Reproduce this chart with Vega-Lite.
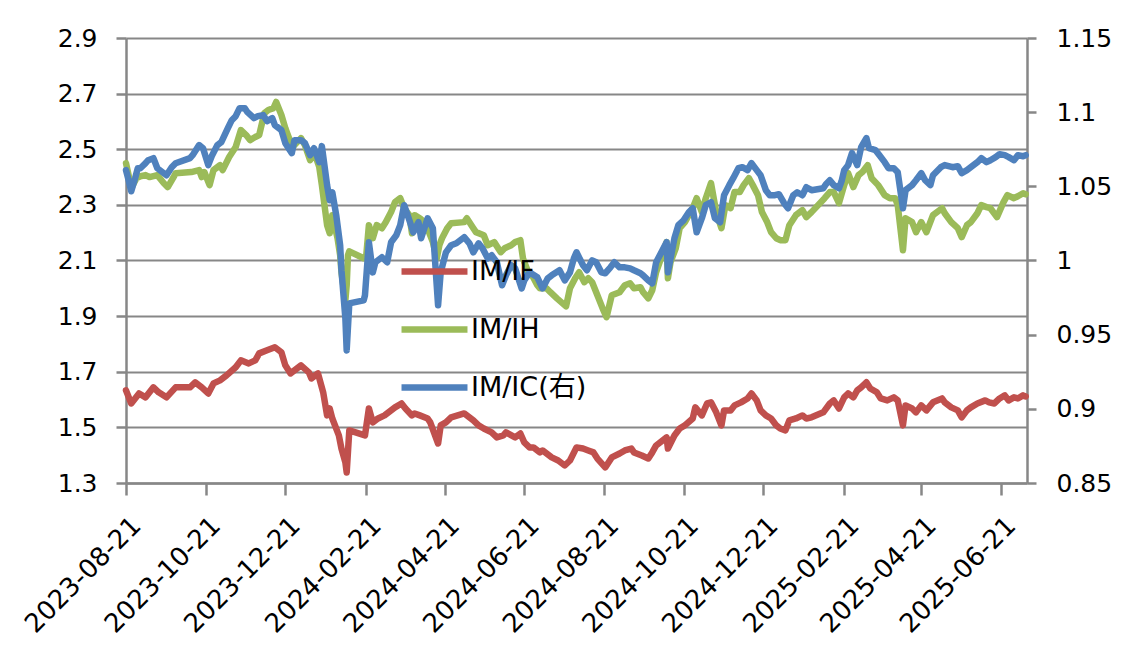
{
"$schema":"https://vega.github.io/schema/vega-lite/v6.json",
"width":901,"height":445,
"autosize":{"type":"none"},
"padding":{"left":126,"top":38,"right":100,"bottom":166},
"background":"white",
"config":{"view":{"stroke":null},"axis":{"labelFont":"DejaVu Sans","labelFontSize":25,"labelColor":"#000","domainColor":"#878787","domainWidth":2.5,"tickColor":"#878787","tickWidth":2.5,"gridColor":"#878787","gridWidth":2}},
"datasets":{
"left":[
{"d":"2023-08-21","s":"IM/IF","v":1.633},{"d":"2023-08-25","s":"IM/IF","v":1.586},{"d":"2023-08-31","s":"IM/IF","v":1.622},{"d":"2023-09-05","s":"IM/IF","v":1.608},{"d":"2023-09-11","s":"IM/IF","v":1.644},{"d":"2023-09-15","s":"IM/IF","v":1.626},{"d":"2023-09-21","s":"IM/IF","v":1.608},{"d":"2023-09-28","s":"IM/IF","v":1.644},{"d":"2023-10-09","s":"IM/IF","v":1.644},{"d":"2023-10-13","s":"IM/IF","v":1.662},{"d":"2023-10-18","s":"IM/IF","v":1.644},{"d":"2023-10-23","s":"IM/IF","v":1.622},{"d":"2023-10-27","s":"IM/IF","v":1.658},{"d":"2023-11-01","s":"IM/IF","v":1.669},{"d":"2023-11-06","s":"IM/IF","v":1.687},{"d":"2023-11-13","s":"IM/IF","v":1.716},{"d":"2023-11-17","s":"IM/IF","v":1.741},{"d":"2023-11-23","s":"IM/IF","v":1.730},{"d":"2023-11-28","s":"IM/IF","v":1.741},{"d":"2023-12-01","s":"IM/IF","v":1.766},{"d":"2023-12-07","s":"IM/IF","v":1.777},{"d":"2023-12-13","s":"IM/IF","v":1.788},{"d":"2023-12-18","s":"IM/IF","v":1.770},{"d":"2023-12-21","s":"IM/IF","v":1.723},{"d":"2023-12-25","s":"IM/IF","v":1.694},{"d":"2024-01-02","s":"IM/IF","v":1.723},{"d":"2024-01-08","s":"IM/IF","v":1.698},{"d":"2024-01-10","s":"IM/IF","v":1.676},{"d":"2024-01-15","s":"IM/IF","v":1.694},{"d":"2024-01-19","s":"IM/IF","v":1.626},{"d":"2024-01-22","s":"IM/IF","v":1.543},{"d":"2024-01-24","s":"IM/IF","v":1.568},{"d":"2024-01-26","s":"IM/IF","v":1.532},{"d":"2024-01-31","s":"IM/IF","v":1.471},{"d":"2024-02-02","s":"IM/IF","v":1.424},{"d":"2024-02-05","s":"IM/IF","v":1.374},{"d":"2024-02-06","s":"IM/IF","v":1.338},{"d":"2024-02-08","s":"IM/IF","v":1.489},{"d":"2024-02-20","s":"IM/IF","v":1.471},{"d":"2024-02-23","s":"IM/IF","v":1.568},{"d":"2024-02-26","s":"IM/IF","v":1.518},{"d":"2024-03-01","s":"IM/IF","v":1.532},{"d":"2024-03-06","s":"IM/IF","v":1.543},{"d":"2024-03-11","s":"IM/IF","v":1.561},{"d":"2024-03-14","s":"IM/IF","v":1.572},{"d":"2024-03-19","s":"IM/IF","v":1.586},{"d":"2024-03-22","s":"IM/IF","v":1.568},{"d":"2024-03-27","s":"IM/IF","v":1.543},{"d":"2024-03-29","s":"IM/IF","v":1.550},{"d":"2024-04-02","s":"IM/IF","v":1.543},{"d":"2024-04-08","s":"IM/IF","v":1.532},{"d":"2024-04-10","s":"IM/IF","v":1.518},{"d":"2024-04-16","s":"IM/IF","v":1.442},{"d":"2024-04-18","s":"IM/IF","v":1.507},{"d":"2024-04-22","s":"IM/IF","v":1.518},{"d":"2024-04-26","s":"IM/IF","v":1.536},{"d":"2024-05-06","s":"IM/IF","v":1.550},{"d":"2024-05-08","s":"IM/IF","v":1.543},{"d":"2024-05-13","s":"IM/IF","v":1.525},{"d":"2024-05-17","s":"IM/IF","v":1.507},{"d":"2024-05-21","s":"IM/IF","v":1.496},{"d":"2024-05-27","s":"IM/IF","v":1.482},{"d":"2024-05-31","s":"IM/IF","v":1.464},{"d":"2024-06-05","s":"IM/IF","v":1.471},{"d":"2024-06-07","s":"IM/IF","v":1.482},{"d":"2024-06-14","s":"IM/IF","v":1.464},{"d":"2024-06-18","s":"IM/IF","v":1.478},{"d":"2024-06-21","s":"IM/IF","v":1.446},{"d":"2024-06-25","s":"IM/IF","v":1.428},{"d":"2024-06-28","s":"IM/IF","v":1.428},{"d":"2024-07-03","s":"IM/IF","v":1.410},{"d":"2024-07-05","s":"IM/IF","v":1.417},{"d":"2024-07-12","s":"IM/IF","v":1.392},{"d":"2024-07-17","s":"IM/IF","v":1.381},{"d":"2024-07-22","s":"IM/IF","v":1.363},{"d":"2024-07-26","s":"IM/IF","v":1.381},{"d":"2024-07-31","s":"IM/IF","v":1.428},{"d":"2024-08-05","s":"IM/IF","v":1.424},{"d":"2024-08-09","s":"IM/IF","v":1.417},{"d":"2024-08-13","s":"IM/IF","v":1.410},{"d":"2024-08-16","s":"IM/IF","v":1.388},{"d":"2024-08-22","s":"IM/IF","v":1.356},{"d":"2024-08-27","s":"IM/IF","v":1.392},{"d":"2024-09-02","s":"IM/IF","v":1.406},{"d":"2024-09-06","s":"IM/IF","v":1.417},{"d":"2024-09-11","s":"IM/IF","v":1.424},{"d":"2024-09-13","s":"IM/IF","v":1.410},{"d":"2024-09-19","s":"IM/IF","v":1.399},{"d":"2024-09-24","s":"IM/IF","v":1.388},{"d":"2024-09-27","s":"IM/IF","v":1.410},{"d":"2024-09-30","s":"IM/IF","v":1.435},{"d":"2024-10-08","s":"IM/IF","v":1.464},{"d":"2024-10-09","s":"IM/IF","v":1.424},{"d":"2024-10-14","s":"IM/IF","v":1.471},{"d":"2024-10-18","s":"IM/IF","v":1.496},{"d":"2024-10-22","s":"IM/IF","v":1.507},{"d":"2024-10-28","s":"IM/IF","v":1.532},{"d":"2024-10-30","s":"IM/IF","v":1.572},{"d":"2024-11-04","s":"IM/IF","v":1.543},{"d":"2024-11-08","s":"IM/IF","v":1.586},{"d":"2024-11-11","s":"IM/IF","v":1.590},{"d":"2024-11-15","s":"IM/IF","v":1.554},{"d":"2024-11-19","s":"IM/IF","v":1.507},{"d":"2024-11-21","s":"IM/IF","v":1.561},{"d":"2024-11-26","s":"IM/IF","v":1.561},{"d":"2024-11-29","s":"IM/IF","v":1.579},{"d":"2024-12-04","s":"IM/IF","v":1.590},{"d":"2024-12-09","s":"IM/IF","v":1.604},{"d":"2024-12-12","s":"IM/IF","v":1.622},{"d":"2024-12-16","s":"IM/IF","v":1.597},{"d":"2024-12-19","s":"IM/IF","v":1.561},{"d":"2024-12-23","s":"IM/IF","v":1.543},{"d":"2024-12-27","s":"IM/IF","v":1.532},{"d":"2024-12-31","s":"IM/IF","v":1.507},{"d":"2025-01-03","s":"IM/IF","v":1.496},{"d":"2025-01-07","s":"IM/IF","v":1.489},{"d":"2025-01-10","s":"IM/IF","v":1.525},{"d":"2025-01-15","s":"IM/IF","v":1.532},{"d":"2025-01-20","s":"IM/IF","v":1.543},{"d":"2025-01-23","s":"IM/IF","v":1.532},{"d":"2025-01-27","s":"IM/IF","v":1.536},{"d":"2025-02-05","s":"IM/IF","v":1.554},{"d":"2025-02-10","s":"IM/IF","v":1.586},{"d":"2025-02-13","s":"IM/IF","v":1.597},{"d":"2025-02-17","s":"IM/IF","v":1.568},{"d":"2025-02-21","s":"IM/IF","v":1.608},{"d":"2025-02-24","s":"IM/IF","v":1.622},{"d":"2025-02-28","s":"IM/IF","v":1.608},{"d":"2025-03-03","s":"IM/IF","v":1.633},{"d":"2025-03-06","s":"IM/IF","v":1.644},{"d":"2025-03-10","s":"IM/IF","v":1.662},{"d":"2025-03-13","s":"IM/IF","v":1.640},{"d":"2025-03-18","s":"IM/IF","v":1.626},{"d":"2025-03-21","s":"IM/IF","v":1.604},{"d":"2025-03-26","s":"IM/IF","v":1.597},{"d":"2025-03-31","s":"IM/IF","v":1.608},{"d":"2025-04-03","s":"IM/IF","v":1.597},{"d":"2025-04-07","s":"IM/IF","v":1.507},{"d":"2025-04-09","s":"IM/IF","v":1.579},{"d":"2025-04-14","s":"IM/IF","v":1.568},{"d":"2025-04-17","s":"IM/IF","v":1.554},{"d":"2025-04-21","s":"IM/IF","v":1.579},{"d":"2025-04-25","s":"IM/IF","v":1.561},{"d":"2025-04-30","s":"IM/IF","v":1.590},{"d":"2025-05-07","s":"IM/IF","v":1.604},{"d":"2025-05-09","s":"IM/IF","v":1.590},{"d":"2025-05-14","s":"IM/IF","v":1.572},{"d":"2025-05-19","s":"IM/IF","v":1.561},{"d":"2025-05-22","s":"IM/IF","v":1.536},{"d":"2025-05-26","s":"IM/IF","v":1.561},{"d":"2025-05-29","s":"IM/IF","v":1.572},{"d":"2025-06-03","s":"IM/IF","v":1.586},{"d":"2025-06-09","s":"IM/IF","v":1.597},{"d":"2025-06-12","s":"IM/IF","v":1.590},{"d":"2025-06-16","s":"IM/IF","v":1.586},{"d":"2025-06-20","s":"IM/IF","v":1.604},{"d":"2025-06-24","s":"IM/IF","v":1.615},{"d":"2025-06-27","s":"IM/IF","v":1.597},{"d":"2025-07-01","s":"IM/IF","v":1.608},{"d":"2025-07-04","s":"IM/IF","v":1.604},{"d":"2025-07-08","s":"IM/IF","v":1.615},{"d":"2025-07-10","s":"IM/IF","v":1.611},
{"d":"2023-08-21","s":"IM/IH","v":2.450},{"d":"2023-08-23","s":"IM/IH","v":2.407},{"d":"2023-08-25","s":"IM/IH","v":2.360},{"d":"2023-08-29","s":"IM/IH","v":2.396},{"d":"2023-09-01","s":"IM/IH","v":2.403},{"d":"2023-09-05","s":"IM/IH","v":2.407},{"d":"2023-09-08","s":"IM/IH","v":2.400},{"d":"2023-09-14","s":"IM/IH","v":2.407},{"d":"2023-09-19","s":"IM/IH","v":2.378},{"d":"2023-09-22","s":"IM/IH","v":2.364},{"d":"2023-09-26","s":"IM/IH","v":2.396},{"d":"2023-09-28","s":"IM/IH","v":2.414},{"d":"2023-10-10","s":"IM/IH","v":2.418},{"d":"2023-10-16","s":"IM/IH","v":2.425},{"d":"2023-10-18","s":"IM/IH","v":2.400},{"d":"2023-10-20","s":"IM/IH","v":2.418},{"d":"2023-10-24","s":"IM/IH","v":2.371},{"d":"2023-10-27","s":"IM/IH","v":2.425},{"d":"2023-11-01","s":"IM/IH","v":2.443},{"d":"2023-11-03","s":"IM/IH","v":2.425},{"d":"2023-11-08","s":"IM/IH","v":2.472},{"d":"2023-11-13","s":"IM/IH","v":2.508},{"d":"2023-11-17","s":"IM/IH","v":2.569},{"d":"2023-11-21","s":"IM/IH","v":2.551},{"d":"2023-11-24","s":"IM/IH","v":2.533},{"d":"2023-11-28","s":"IM/IH","v":2.544},{"d":"2023-12-01","s":"IM/IH","v":2.551},{"d":"2023-12-05","s":"IM/IH","v":2.630},{"d":"2023-12-08","s":"IM/IH","v":2.641},{"d":"2023-12-12","s":"IM/IH","v":2.648},{"d":"2023-12-14","s":"IM/IH","v":2.670},{"d":"2023-12-18","s":"IM/IH","v":2.623},{"d":"2023-12-21","s":"IM/IH","v":2.576},{"d":"2023-12-25","s":"IM/IH","v":2.526},{"d":"2023-12-28","s":"IM/IH","v":2.515},{"d":"2024-01-02","s":"IM/IH","v":2.540},{"d":"2024-01-05","s":"IM/IH","v":2.515},{"d":"2024-01-09","s":"IM/IH","v":2.461},{"d":"2024-01-12","s":"IM/IH","v":2.490},{"d":"2024-01-16","s":"IM/IH","v":2.436},{"d":"2024-01-18","s":"IM/IH","v":2.371},{"d":"2024-01-22","s":"IM/IH","v":2.227},{"d":"2024-01-24","s":"IM/IH","v":2.198},{"d":"2024-01-26","s":"IM/IH","v":2.263},{"d":"2024-01-30","s":"IM/IH","v":2.180},{"d":"2024-02-01","s":"IM/IH","v":2.119},{"d":"2024-02-02","s":"IM/IH","v":2.058},{"d":"2024-02-05","s":"IM/IH","v":1.957},{"d":"2024-02-06","s":"IM/IH","v":2.011},{"d":"2024-02-07","s":"IM/IH","v":2.119},{"d":"2024-02-08","s":"IM/IH","v":2.133},{"d":"2024-02-19","s":"IM/IH","v":2.108},{"d":"2024-02-21","s":"IM/IH","v":2.119},{"d":"2024-02-23","s":"IM/IH","v":2.227},{"d":"2024-02-26","s":"IM/IH","v":2.180},{"d":"2024-02-29","s":"IM/IH","v":2.227},{"d":"2024-03-04","s":"IM/IH","v":2.216},{"d":"2024-03-07","s":"IM/IH","v":2.238},{"d":"2024-03-11","s":"IM/IH","v":2.274},{"d":"2024-03-14","s":"IM/IH","v":2.310},{"d":"2024-03-18","s":"IM/IH","v":2.324},{"d":"2024-03-21","s":"IM/IH","v":2.288},{"d":"2024-03-25","s":"IM/IH","v":2.263},{"d":"2024-03-27","s":"IM/IH","v":2.198},{"d":"2024-03-29","s":"IM/IH","v":2.263},{"d":"2024-04-02","s":"IM/IH","v":2.252},{"d":"2024-04-08","s":"IM/IH","v":2.227},{"d":"2024-04-09","s":"IM/IH","v":2.202},{"d":"2024-04-12","s":"IM/IH","v":2.166},{"d":"2024-04-15","s":"IM/IH","v":2.108},{"d":"2024-04-17","s":"IM/IH","v":2.155},{"d":"2024-04-19","s":"IM/IH","v":2.180},{"d":"2024-04-23","s":"IM/IH","v":2.216},{"d":"2024-04-26","s":"IM/IH","v":2.234},{"d":"2024-05-06","s":"IM/IH","v":2.238},{"d":"2024-05-08","s":"IM/IH","v":2.252},{"d":"2024-05-13","s":"IM/IH","v":2.216},{"d":"2024-05-15","s":"IM/IH","v":2.202},{"d":"2024-05-21","s":"IM/IH","v":2.191},{"d":"2024-05-24","s":"IM/IH","v":2.155},{"d":"2024-05-29","s":"IM/IH","v":2.166},{"d":"2024-06-03","s":"IM/IH","v":2.130},{"d":"2024-06-06","s":"IM/IH","v":2.144},{"d":"2024-06-11","s":"IM/IH","v":2.155},{"d":"2024-06-14","s":"IM/IH","v":2.166},{"d":"2024-06-18","s":"IM/IH","v":2.173},{"d":"2024-06-20","s":"IM/IH","v":2.108},{"d":"2024-06-24","s":"IM/IH","v":2.058},{"d":"2024-06-27","s":"IM/IH","v":2.047},{"d":"2024-07-01","s":"IM/IH","v":2.011},{"d":"2024-07-03","s":"IM/IH","v":2.000},{"d":"2024-07-08","s":"IM/IH","v":2.000},{"d":"2024-07-11","s":"IM/IH","v":1.986},{"d":"2024-07-16","s":"IM/IH","v":1.964},{"d":"2024-07-23","s":"IM/IH","v":1.935},{"d":"2024-07-26","s":"IM/IH","v":2.000},{"d":"2024-07-30","s":"IM/IH","v":2.036},{"d":"2024-08-02","s":"IM/IH","v":2.058},{"d":"2024-08-06","s":"IM/IH","v":2.022},{"d":"2024-08-09","s":"IM/IH","v":2.036},{"d":"2024-08-12","s":"IM/IH","v":2.022},{"d":"2024-08-16","s":"IM/IH","v":1.975},{"d":"2024-08-20","s":"IM/IH","v":1.928},{"d":"2024-08-23","s":"IM/IH","v":1.896},{"d":"2024-08-27","s":"IM/IH","v":1.975},{"d":"2024-09-02","s":"IM/IH","v":1.986},{"d":"2024-09-06","s":"IM/IH","v":2.011},{"d":"2024-09-10","s":"IM/IH","v":2.018},{"d":"2024-09-13","s":"IM/IH","v":2.000},{"d":"2024-09-18","s":"IM/IH","v":2.004},{"d":"2024-09-20","s":"IM/IH","v":1.986},{"d":"2024-09-24","s":"IM/IH","v":1.964},{"d":"2024-09-27","s":"IM/IH","v":1.993},{"d":"2024-09-30","s":"IM/IH","v":2.058},{"d":"2024-10-08","s":"IM/IH","v":2.166},{"d":"2024-10-09","s":"IM/IH","v":2.036},{"d":"2024-10-11","s":"IM/IH","v":2.094},{"d":"2024-10-15","s":"IM/IH","v":2.144},{"d":"2024-10-18","s":"IM/IH","v":2.216},{"d":"2024-10-22","s":"IM/IH","v":2.238},{"d":"2024-10-28","s":"IM/IH","v":2.288},{"d":"2024-10-31","s":"IM/IH","v":2.324},{"d":"2024-11-04","s":"IM/IH","v":2.274},{"d":"2024-11-07","s":"IM/IH","v":2.324},{"d":"2024-11-11","s":"IM/IH","v":2.378},{"d":"2024-11-15","s":"IM/IH","v":2.274},{"d":"2024-11-19","s":"IM/IH","v":2.216},{"d":"2024-11-22","s":"IM/IH","v":2.299},{"d":"2024-11-26","s":"IM/IH","v":2.288},{"d":"2024-11-29","s":"IM/IH","v":2.346},{"d":"2024-12-03","s":"IM/IH","v":2.346},{"d":"2024-12-06","s":"IM/IH","v":2.371},{"d":"2024-12-10","s":"IM/IH","v":2.396},{"d":"2024-12-13","s":"IM/IH","v":2.371},{"d":"2024-12-17","s":"IM/IH","v":2.335},{"d":"2024-12-20","s":"IM/IH","v":2.274},{"d":"2024-12-24","s":"IM/IH","v":2.238},{"d":"2024-12-27","s":"IM/IH","v":2.202},{"d":"2024-12-31","s":"IM/IH","v":2.180},{"d":"2025-01-03","s":"IM/IH","v":2.173},{"d":"2025-01-07","s":"IM/IH","v":2.173},{"d":"2025-01-10","s":"IM/IH","v":2.227},{"d":"2025-01-15","s":"IM/IH","v":2.263},{"d":"2025-01-20","s":"IM/IH","v":2.281},{"d":"2025-01-23","s":"IM/IH","v":2.256},{"d":"2025-01-27","s":"IM/IH","v":2.274},{"d":"2025-02-06","s":"IM/IH","v":2.324},{"d":"2025-02-10","s":"IM/IH","v":2.346},{"d":"2025-02-13","s":"IM/IH","v":2.346},{"d":"2025-02-17","s":"IM/IH","v":2.306},{"d":"2025-02-21","s":"IM/IH","v":2.371},{"d":"2025-02-24","s":"IM/IH","v":2.414},{"d":"2025-02-28","s":"IM/IH","v":2.364},{"d":"2025-03-04","s":"IM/IH","v":2.407},{"d":"2025-03-07","s":"IM/IH","v":2.418},{"d":"2025-03-11","s":"IM/IH","v":2.443},{"d":"2025-03-14","s":"IM/IH","v":2.396},{"d":"2025-03-19","s":"IM/IH","v":2.371},{"d":"2025-03-24","s":"IM/IH","v":2.335},{"d":"2025-03-28","s":"IM/IH","v":2.324},{"d":"2025-04-01","s":"IM/IH","v":2.324},{"d":"2025-04-03","s":"IM/IH","v":2.299},{"d":"2025-04-07","s":"IM/IH","v":2.137},{"d":"2025-04-09","s":"IM/IH","v":2.252},{"d":"2025-04-14","s":"IM/IH","v":2.238},{"d":"2025-04-17","s":"IM/IH","v":2.202},{"d":"2025-04-21","s":"IM/IH","v":2.238},{"d":"2025-04-25","s":"IM/IH","v":2.202},{"d":"2025-04-30","s":"IM/IH","v":2.263},{"d":"2025-05-07","s":"IM/IH","v":2.288},{"d":"2025-05-09","s":"IM/IH","v":2.270},{"d":"2025-05-14","s":"IM/IH","v":2.238},{"d":"2025-05-19","s":"IM/IH","v":2.216},{"d":"2025-05-22","s":"IM/IH","v":2.184},{"d":"2025-05-26","s":"IM/IH","v":2.227},{"d":"2025-05-29","s":"IM/IH","v":2.238},{"d":"2025-06-03","s":"IM/IH","v":2.270},{"d":"2025-06-06","s":"IM/IH","v":2.299},{"d":"2025-06-10","s":"IM/IH","v":2.292},{"d":"2025-06-13","s":"IM/IH","v":2.288},{"d":"2025-06-18","s":"IM/IH","v":2.256},{"d":"2025-06-23","s":"IM/IH","v":2.310},{"d":"2025-06-26","s":"IM/IH","v":2.335},{"d":"2025-07-01","s":"IM/IH","v":2.324},{"d":"2025-07-04","s":"IM/IH","v":2.331},{"d":"2025-07-08","s":"IM/IH","v":2.342},{"d":"2025-07-10","s":"IM/IH","v":2.338}
],
"right":[
{"d":"2023-08-21","s":"IM/IC(右)","v":1.0609},{"d":"2023-08-23","s":"IM/IC(右)","v":1.0541},{"d":"2023-08-25","s":"IM/IC(右)","v":1.0467},{"d":"2023-08-28","s":"IM/IC(右)","v":1.0555},{"d":"2023-08-30","s":"IM/IC(右)","v":1.0622},{"d":"2023-09-01","s":"IM/IC(右)","v":1.0622},{"d":"2023-09-05","s":"IM/IC(右)","v":1.0656},{"d":"2023-09-07","s":"IM/IC(右)","v":1.0676},{"d":"2023-09-11","s":"IM/IC(右)","v":1.069},{"d":"2023-09-14","s":"IM/IC(右)","v":1.0622},{"d":"2023-09-18","s":"IM/IC(右)","v":1.0595},{"d":"2023-09-21","s":"IM/IC(右)","v":1.0575},{"d":"2023-09-25","s":"IM/IC(右)","v":1.0629},{"d":"2023-09-28","s":"IM/IC(右)","v":1.0656},{"d":"2023-10-09","s":"IM/IC(右)","v":1.069},{"d":"2023-10-11","s":"IM/IC(右)","v":1.071},{"d":"2023-10-16","s":"IM/IC(右)","v":1.0778},{"d":"2023-10-19","s":"IM/IC(右)","v":1.0757},{"d":"2023-10-23","s":"IM/IC(右)","v":1.0643},{"d":"2023-10-26","s":"IM/IC(右)","v":1.071},{"d":"2023-10-30","s":"IM/IC(右)","v":1.0778},{"d":"2023-11-02","s":"IM/IC(右)","v":1.0798},{"d":"2023-11-07","s":"IM/IC(右)","v":1.0892},{"d":"2023-11-10","s":"IM/IC(右)","v":1.0946},{"d":"2023-11-13","s":"IM/IC(右)","v":1.0973},{"d":"2023-11-16","s":"IM/IC(右)","v":1.1027},{"d":"2023-11-20","s":"IM/IC(右)","v":1.1027},{"d":"2023-11-22","s":"IM/IC(右)","v":1.1},{"d":"2023-11-27","s":"IM/IC(右)","v":1.096},{"d":"2023-11-30","s":"IM/IC(右)","v":1.0973},{"d":"2023-12-04","s":"IM/IC(右)","v":1.098},{"d":"2023-12-07","s":"IM/IC(右)","v":1.094},{"d":"2023-12-11","s":"IM/IC(右)","v":1.096},{"d":"2023-12-13","s":"IM/IC(右)","v":1.0913},{"d":"2023-12-18","s":"IM/IC(右)","v":1.0879},{"d":"2023-12-21","s":"IM/IC(右)","v":1.0791},{"d":"2023-12-26","s":"IM/IC(右)","v":1.0724},{"d":"2023-12-28","s":"IM/IC(右)","v":1.0811},{"d":"2024-01-02","s":"IM/IC(右)","v":1.0811},{"d":"2024-01-05","s":"IM/IC(右)","v":1.0791},{"d":"2024-01-09","s":"IM/IC(右)","v":1.071},{"d":"2024-01-12","s":"IM/IC(右)","v":1.0757},{"d":"2024-01-16","s":"IM/IC(右)","v":1.0663},{"d":"2024-01-18","s":"IM/IC(右)","v":1.0771},{"d":"2024-01-22","s":"IM/IC(右)","v":1.0508},{"d":"2024-01-24","s":"IM/IC(右)","v":1.0406},{"d":"2024-01-26","s":"IM/IC(右)","v":1.046},{"d":"2024-01-29","s":"IM/IC(右)","v":1.0305},{"d":"2024-02-01","s":"IM/IC(右)","v":1.0103},{"d":"2024-02-02","s":"IM/IC(右)","v":0.9934},{"d":"2024-02-05","s":"IM/IC(右)","v":0.961},{"d":"2024-02-06","s":"IM/IC(右)","v":0.9394},{"d":"2024-02-08","s":"IM/IC(右)","v":0.9711},{"d":"2024-02-19","s":"IM/IC(右)","v":0.9731},{"d":"2024-02-20","s":"IM/IC(右)","v":0.9765},{"d":"2024-02-23","s":"IM/IC(右)","v":1.0123},{"d":"2024-02-26","s":"IM/IC(右)","v":0.992},{"d":"2024-02-28","s":"IM/IC(右)","v":0.9988},{"d":"2024-03-04","s":"IM/IC(右)","v":1.0022},{"d":"2024-03-08","s":"IM/IC(右)","v":0.9988},{"d":"2024-03-11","s":"IM/IC(右)","v":1.0123},{"d":"2024-03-15","s":"IM/IC(右)","v":1.017},{"d":"2024-03-18","s":"IM/IC(右)","v":1.0238},{"d":"2024-03-21","s":"IM/IC(右)","v":1.0373},{"d":"2024-03-25","s":"IM/IC(右)","v":1.0271},{"d":"2024-03-28","s":"IM/IC(右)","v":1.019},{"d":"2024-04-01","s":"IM/IC(右)","v":1.0258},{"d":"2024-04-03","s":"IM/IC(右)","v":1.015},{"d":"2024-04-08","s":"IM/IC(右)","v":1.0285},{"d":"2024-04-12","s":"IM/IC(右)","v":1.0217},{"d":"2024-04-16","s":"IM/IC(右)","v":0.9698},{"d":"2024-04-18","s":"IM/IC(右)","v":0.992},{"d":"2024-04-22","s":"IM/IC(右)","v":1.0055},{"d":"2024-04-26","s":"IM/IC(右)","v":1.0103},{"d":"2024-04-30","s":"IM/IC(右)","v":1.0116},{"d":"2024-05-06","s":"IM/IC(右)","v":1.0157},{"d":"2024-05-10","s":"IM/IC(右)","v":1.0116},{"d":"2024-05-13","s":"IM/IC(右)","v":1.0055},{"d":"2024-05-17","s":"IM/IC(右)","v":1.0116},{"d":"2024-05-20","s":"IM/IC(右)","v":1.0082},{"d":"2024-05-24","s":"IM/IC(右)","v":1.0015},{"d":"2024-05-27","s":"IM/IC(右)","v":1.0035},{"d":"2024-05-31","s":"IM/IC(右)","v":0.9988},{"d":"2024-06-04","s":"IM/IC(右)","v":0.9833},{"d":"2024-06-07","s":"IM/IC(右)","v":0.99},{"d":"2024-06-11","s":"IM/IC(右)","v":0.9968},{"d":"2024-06-14","s":"IM/IC(右)","v":0.9947},{"d":"2024-06-19","s":"IM/IC(右)","v":0.9812},{"d":"2024-06-21","s":"IM/IC(右)","v":0.9866},{"d":"2024-06-25","s":"IM/IC(右)","v":0.992},{"d":"2024-07-01","s":"IM/IC(右)","v":0.9887},{"d":"2024-07-05","s":"IM/IC(右)","v":0.9812},{"d":"2024-07-09","s":"IM/IC(右)","v":0.988},{"d":"2024-07-12","s":"IM/IC(右)","v":0.99},{"d":"2024-07-18","s":"IM/IC(右)","v":0.9934},{"d":"2024-07-22","s":"IM/IC(右)","v":0.9866},{"d":"2024-07-26","s":"IM/IC(右)","v":0.992},{"d":"2024-07-29","s":"IM/IC(右)","v":1.0015},{"d":"2024-07-31","s":"IM/IC(右)","v":1.0055},{"d":"2024-08-05","s":"IM/IC(右)","v":0.9968},{"d":"2024-08-08","s":"IM/IC(右)","v":0.9934},{"d":"2024-08-12","s":"IM/IC(右)","v":1.0001},{"d":"2024-08-15","s":"IM/IC(右)","v":0.9988},{"d":"2024-08-19","s":"IM/IC(右)","v":0.992},{"d":"2024-08-22","s":"IM/IC(右)","v":0.9914},{"d":"2024-08-26","s":"IM/IC(右)","v":0.9954},{"d":"2024-08-29","s":"IM/IC(右)","v":0.9988},{"d":"2024-09-02","s":"IM/IC(右)","v":0.9954},{"d":"2024-09-06","s":"IM/IC(右)","v":0.9954},{"d":"2024-09-10","s":"IM/IC(右)","v":0.9947},{"d":"2024-09-13","s":"IM/IC(右)","v":0.9934},{"d":"2024-09-18","s":"IM/IC(右)","v":0.9914},{"d":"2024-09-20","s":"IM/IC(右)","v":0.99},{"d":"2024-09-24","s":"IM/IC(右)","v":0.9866},{"d":"2024-09-27","s":"IM/IC(右)","v":0.9846},{"d":"2024-09-30","s":"IM/IC(右)","v":0.9988},{"d":"2024-10-08","s":"IM/IC(右)","v":1.0123},{"d":"2024-10-09","s":"IM/IC(右)","v":0.992},{"d":"2024-10-14","s":"IM/IC(右)","v":1.015},{"d":"2024-10-17","s":"IM/IC(右)","v":1.0238},{"d":"2024-10-21","s":"IM/IC(右)","v":1.0271},{"d":"2024-10-25","s":"IM/IC(右)","v":1.0325},{"d":"2024-10-28","s":"IM/IC(右)","v":1.0352},{"d":"2024-10-31","s":"IM/IC(右)","v":1.019},{"d":"2024-11-04","s":"IM/IC(右)","v":1.0285},{"d":"2024-11-07","s":"IM/IC(右)","v":1.0373},{"d":"2024-11-11","s":"IM/IC(右)","v":1.0393},{"d":"2024-11-14","s":"IM/IC(右)","v":1.0285},{"d":"2024-11-18","s":"IM/IC(右)","v":1.0258},{"d":"2024-11-21","s":"IM/IC(右)","v":1.044},{"d":"2024-11-25","s":"IM/IC(右)","v":1.0508},{"d":"2024-11-28","s":"IM/IC(右)","v":1.0555},{"d":"2024-12-02","s":"IM/IC(右)","v":1.0622},{"d":"2024-12-05","s":"IM/IC(右)","v":1.0629},{"d":"2024-12-09","s":"IM/IC(右)","v":1.0609},{"d":"2024-12-12","s":"IM/IC(右)","v":1.0656},{"d":"2024-12-16","s":"IM/IC(右)","v":1.0609},{"d":"2024-12-19","s":"IM/IC(右)","v":1.0575},{"d":"2024-12-23","s":"IM/IC(右)","v":1.0474},{"d":"2024-12-26","s":"IM/IC(右)","v":1.044},{"d":"2024-12-30","s":"IM/IC(右)","v":1.044},{"d":"2025-01-02","s":"IM/IC(右)","v":1.0447},{"d":"2025-01-06","s":"IM/IC(右)","v":1.0386},{"d":"2025-01-09","s":"IM/IC(右)","v":1.0352},{"d":"2025-01-13","s":"IM/IC(右)","v":1.044},{"d":"2025-01-16","s":"IM/IC(右)","v":1.046},{"d":"2025-01-20","s":"IM/IC(右)","v":1.044},{"d":"2025-01-23","s":"IM/IC(右)","v":1.0494},{"d":"2025-01-27","s":"IM/IC(右)","v":1.0474},{"d":"2025-02-05","s":"IM/IC(右)","v":1.0487},{"d":"2025-02-07","s":"IM/IC(右)","v":1.0514},{"d":"2025-02-10","s":"IM/IC(右)","v":1.0541},{"d":"2025-02-13","s":"IM/IC(右)","v":1.0508},{"d":"2025-02-17","s":"IM/IC(右)","v":1.0487},{"d":"2025-02-19","s":"IM/IC(右)","v":1.0535},{"d":"2025-02-21","s":"IM/IC(右)","v":1.0609},{"d":"2025-02-24","s":"IM/IC(右)","v":1.0643},{"d":"2025-02-27","s":"IM/IC(右)","v":1.0724},{"d":"2025-03-03","s":"IM/IC(右)","v":1.0643},{"d":"2025-03-06","s":"IM/IC(右)","v":1.0764},{"d":"2025-03-10","s":"IM/IC(右)","v":1.0825},{"d":"2025-03-12","s":"IM/IC(右)","v":1.0757},{"d":"2025-03-17","s":"IM/IC(右)","v":1.0744},{"d":"2025-03-20","s":"IM/IC(右)","v":1.071},{"d":"2025-03-24","s":"IM/IC(右)","v":1.0663},{"d":"2025-03-27","s":"IM/IC(右)","v":1.0622},{"d":"2025-03-31","s":"IM/IC(右)","v":1.0622},{"d":"2025-04-03","s":"IM/IC(右)","v":1.0595},{"d":"2025-04-07","s":"IM/IC(右)","v":1.0352},{"d":"2025-04-09","s":"IM/IC(右)","v":1.0474},{"d":"2025-04-14","s":"IM/IC(右)","v":1.0508},{"d":"2025-04-17","s":"IM/IC(右)","v":1.0541},{"d":"2025-04-21","s":"IM/IC(右)","v":1.0589},{"d":"2025-04-24","s":"IM/IC(右)","v":1.0541},{"d":"2025-04-28","s":"IM/IC(右)","v":1.0508},{"d":"2025-04-30","s":"IM/IC(右)","v":1.0575},{"d":"2025-05-06","s":"IM/IC(右)","v":1.0629},{"d":"2025-05-09","s":"IM/IC(右)","v":1.0643},{"d":"2025-05-12","s":"IM/IC(右)","v":1.0636},{"d":"2025-05-15","s":"IM/IC(右)","v":1.0629},{"d":"2025-05-19","s":"IM/IC(右)","v":1.0636},{"d":"2025-05-22","s":"IM/IC(右)","v":1.0589},{"d":"2025-05-26","s":"IM/IC(右)","v":1.0609},{"d":"2025-05-29","s":"IM/IC(右)","v":1.0629},{"d":"2025-06-03","s":"IM/IC(右)","v":1.0663},{"d":"2025-06-06","s":"IM/IC(右)","v":1.069},{"d":"2025-06-10","s":"IM/IC(右)","v":1.0663},{"d":"2025-06-13","s":"IM/IC(右)","v":1.0676},{"d":"2025-06-17","s":"IM/IC(右)","v":1.0697},{"d":"2025-06-20","s":"IM/IC(右)","v":1.0717},{"d":"2025-06-24","s":"IM/IC(右)","v":1.071},{"d":"2025-06-27","s":"IM/IC(右)","v":1.0697},{"d":"2025-07-01","s":"IM/IC(右)","v":1.0676},{"d":"2025-07-04","s":"IM/IC(右)","v":1.071},{"d":"2025-07-08","s":"IM/IC(右)","v":1.0703},{"d":"2025-07-10","s":"IM/IC(右)","v":1.071}
]
},
"layer":[
{"data":{"name":"left"},
 "mark":{"type":"line","strokeWidth":6.5,"strokeCap":"round","strokeJoin":"round"},
 "encoding":{
  "x":{"field":"d","type":"temporal","scale":{"domain":[{"year":2023,"month":8,"date":21,"utc":true},{"year":2025,"month":7,"date":11,"utc":true}]},
   "axis":{"title":null,"grid":false,"values":[{"year":2023,"month":8,"date":21,"utc":true},{"year":2023,"month":10,"date":21,"utc":true},{"year":2023,"month":12,"date":21,"utc":true},{"year":2024,"month":2,"date":21,"utc":true},{"year":2024,"month":4,"date":21,"utc":true},{"year":2024,"month":6,"date":21,"utc":true},{"year":2024,"month":8,"date":21,"utc":true},{"year":2024,"month":10,"date":21,"utc":true},{"year":2024,"month":12,"date":21,"utc":true},{"year":2025,"month":2,"date":21,"utc":true},{"year":2025,"month":4,"date":21,"utc":true},{"year":2025,"month":6,"date":21,"utc":true}],
   "labelExpr":"utcFormat(datum.value,'%Y-%m-%d')","labelFontSize":26,"labelAngle":-45,"labelAlign":"right","labelBaseline":"top","labelFlush":false,"labelOverlap":false,"labelBound":false,"tickSize":12,"labelPadding":17,"labelOffset":1}},
  "y":{"field":"v","type":"quantitative","scale":{"domain":[1.3,2.9],"nice":false,"zero":false},
   "axis":{"title":null,"orient":"left","values":[1.3,1.5,1.7,1.9,2.1,2.3,2.5,2.7,2.9],"format":".1f","grid":true,"tickSize":10,"labelPadding":19}},
  "color":{"field":"s","type":"nominal","scale":{"domain":["IM/IF","IM/IH","IM/IC(右)"],"range":["#C0504D","#9BBB59","#4F81BD"]},
   "legend":{"orient":"none","legendX":295,"legendY":220,"title":null,"direction":"vertical","symbolType":"M-4,0H4","symbolSize":272,"symbolStrokeWidth":6.5,"labelFont":"DejaVu Sans, Noto Sans CJK SC","labelFontSize":27,"labelColor":"#000","rowPadding":30,"labelOffset":23,"padding":0,"labelLimit":400}}
 }},
{"data":{"name":"right"},
 "mark":{"type":"line","strokeWidth":6.5,"strokeCap":"round","strokeJoin":"round"},
 "encoding":{
  "x":{"field":"d","type":"temporal"},
  "y":{"field":"v","type":"quantitative","scale":{"domain":[0.85,1.15],"nice":false,"zero":false},
   "axis":{"title":null,"orient":"right","values":[0.85,0.9,0.95,1,1.05,1.1,1.15],"format":"~g","grid":false,"tickSize":9,"labelPadding":20}},
  "color":{"field":"s","type":"nominal","scale":{"domain":["IM/IF","IM/IH","IM/IC(右)"],"range":["#C0504D","#9BBB59","#4F81BD"]},
   "legend":{"orient":"none","legendX":295,"legendY":220,"title":null,"direction":"vertical","symbolType":"M-4,0H4","symbolSize":272,"symbolStrokeWidth":6.5,"labelFont":"DejaVu Sans, Noto Sans CJK SC","labelFontSize":27,"labelColor":"#000","rowPadding":30,"labelOffset":23,"padding":0,"labelLimit":400}}
 }}
],
"resolve":{"scale":{"y":"independent"}}
}
